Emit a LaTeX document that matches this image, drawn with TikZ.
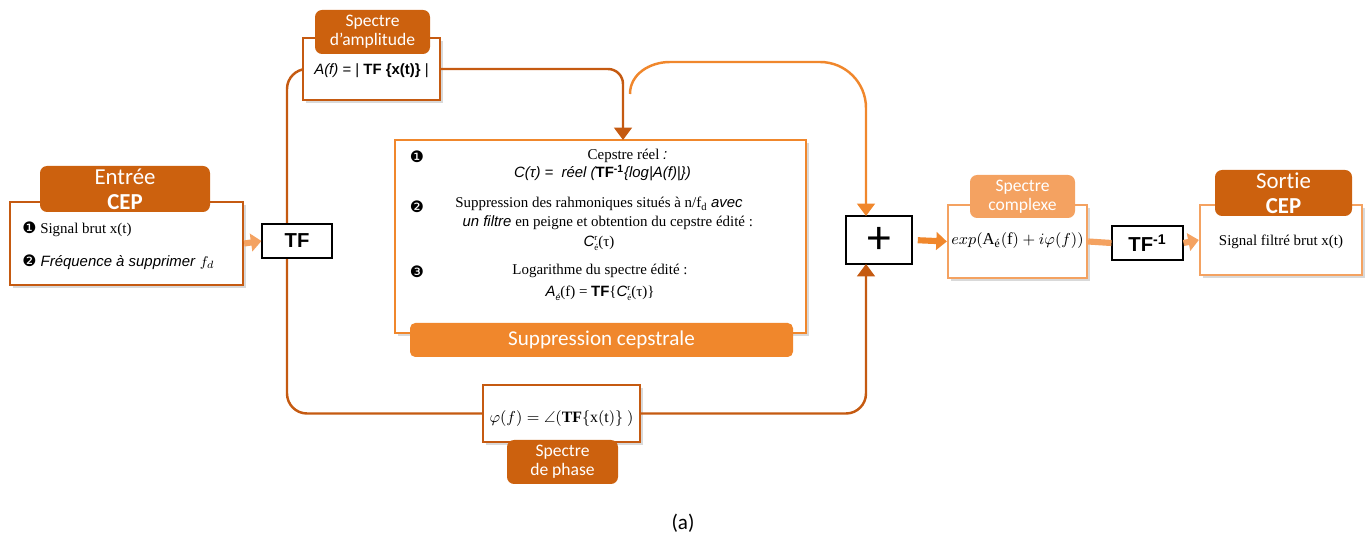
\documentclass[tikz,border=0pt]{standalone}
\usepackage{fontspec}
\usepackage{amsmath,amssymb}
\setmainfont{Liberation Serif}
\newfontfamily\calibrifont[Ligatures=NoCommon]{Carlito}
\newfontfamily\arialfont{Liberation Sans}
\newfontfamily\symbfont{DejaVu Sans}
\definecolor{DarkOrange}{HTML}{C55A11}
\definecolor{HeadOrange}{HTML}{CC610E}
\definecolor{MidOrange}{HTML}{F0872C}
\definecolor{LightOrange}{HTML}{F4A261}
\usetikzlibrary{arrows.meta, positioning, calc, backgrounds, shadows}
\tikzset{
  % Box styles
  framebox/.style={rectangle, line width=1.3pt, fill=white, drop shadow={shadow xshift=1.5pt, shadow yshift=-1.5pt, opacity=0.3}},
  headbox/.style={rectangle, rounded corners=4pt, fill=HeadOrange, text=white, align=center, inner sep=1pt, font=\calibrifont\fontsize{10}{11}\selectfont},
  opbox/.style={rectangle, draw=black, line width=0.6pt, fill=white, drop shadow={shadow xshift=0.8pt, shadow yshift=-0.8pt, opacity=0.3}, font=\arialfont\bfseries\fontsize{11.5}{12}\selectfont},
  banner/.style={rectangle, rounded corners=3pt, fill=MidOrange, text=white, minimum width=7.66cm, minimum height=0.68cm, font=\calibrifont\fontsize{12}{12}\selectfont},
  % Text styles
  sertext/.style={font=\fontsize{8.5}{10.5}\selectfont, inner sep=0pt, align=center},
  sanstext/.style={font=\arialfont\fontsize{8.5}{10}\selectfont, inner sep=0pt, align=center},
  bullet/.style={font=\symbfont\small, inner sep=0pt},
  % Arrow styles
  dkline/.style={draw=DarkOrange, line width=1.4pt},
  dkarrow/.style={dkline, -{Triangle[width=10pt,length=7pt]}},
  mdarrow/.style={draw=MidOrange, line width=1.4pt, -{Triangle[width=10pt,length=7pt]}},
  fatline/.style={draw=LightOrange, line width=3.5pt},
  fatarrow/.style={fatline, -{Triangle[width=10pt,length=6pt]}}
}
\begin{document}
\begin{tikzpicture}
  \useasboundingbox (0,0) rectangle (27.36,10.8);

  % Entree
  \node[framebox, draw=DarkOrange, minimum width=4.66cm, minimum height=1.66cm] (entree) at (2.53,5.93) {};
  \node[headbox, minimum width=3.4cm, minimum height=0.92cm, font=\calibrifont\fontsize{13}{14}\selectfont] (entreehead) at (2.5,7.02) {Entrée\\\textbf{CEP}};
  \node[sertext, anchor=west] (signal) at (0.44,6.22) {{\symbfont\small ❶} Signal brut x(t)};
  \node[sanstext, anchor=west] (freq) at (0.44,5.56) {{\symbfont\small ❷} \textit{Fréquence à supprimer} $f_d$};

  % TF
  \node[opbox, minimum width=1.4cm, minimum height=0.68cm] (tf) at (5.94,5.98) {TF};
  \coordinate (loopx) at (5.74,5.98);

  % Spectre d'amplitude
  \node[framebox, draw=DarkOrange, minimum width=2.74cm, minimum height=1.24cm] (amp) at (7.43,9.42) {};
  \node[headbox, minimum width=2.3cm, minimum height=0.88cm] (amphead) at (7.45,10.16) {Spectre\\d’amplitude};
  \node[sanstext] (ampf) at (7.43,9.38) {\textit{A(f)} = | \textbf{TF \{x(t)\}} |};

  % Suppression cepstrale
  \node[framebox, draw=MidOrange, minimum width=8.22cm, minimum height=3.86cm] (central) at (12.01,6.07) {};
  \node[banner] (supp) at (12.03,4.0) {Suppression cepstrale};
  \node[bullet] (b1) at (8.34,7.66) {❶};
  \node[bullet] (b2) at (8.34,6.66) {❷};
  \node[bullet] (b3) at (8.34,5.36) {❸};
  \node[sertext] (step1) at (12.05,7.5) {\hspace*{1cm}Cepstre réel {\arialfont\itshape :}\\{\arialfont\itshape C(τ) =~ réel ({\upshape\bfseries TF\textsuperscript{-1}}\{log|A(f)|\})}};
  \node[sertext] (step2) at (11.98,6.32) {Suppression des rahmoniques situés à n/f$_{\text{d}}$ {\arialfont\itshape avec}\\\hspace*{0.35cm}{\arialfont\itshape un filtre} en peigne et obtention du cepstre édité :\\[1pt]{\arialfont\itshape C}\rlap{\raisebox{3.5pt}{\tiny r}}\raisebox{-2.5pt}{\tiny é}(τ)};
  \node[sertext] (step3) at (12.0,5.15) {Logarithme du spectre édité :\\[2pt]{\arialfont\itshape A\raisebox{-2.5pt}{\tiny é}}(f) = {\arialfont\bfseries TF}\{{\arialfont\itshape C}\rlap{\raisebox{3.5pt}{\tiny r}}\raisebox{-2.5pt}{\tiny é}(τ)\}};
  \coordinate (cin) at (12.46,8.0);
  \coordinate (arcbeg) at (12.6,8.92);

  % Spectre de phase
  \node[framebox, draw=DarkOrange, minimum width=3.14cm, minimum height=1.14cm] (phase) at (11.23,2.53) {};
  \node[headbox, minimum width=2.22cm, minimum height=0.88cm] (phasehead) at (11.25,1.56) {Spectre\\de phase};
  \node[sertext, font=\fontsize{9}{10}\selectfont] (phasef) at (11.23,2.42) {$\varphi(f) = \angle(\mathbf{TF}\{\mathrm{x(t)}\}\ )$};

  % Somme
  \node[opbox, minimum width=1.32cm, minimum height=0.96cm, font=\calibrifont\fontsize{27}{27}\selectfont] (plus) at (17.58,6.0) {+};
  \coordinate (plustop) at (17.32,6.48);
  \coordinate (plusbot) at (17.32,5.52);

  % Spectre complexe
  \node[framebox, draw=LightOrange, minimum width=2.78cm, minimum height=1.46cm] (cplx) at (20.35,5.97) {};
  \node[headbox, fill=LightOrange, minimum width=2.1cm, minimum height=0.86cm] (cplxhead) at (20.45,6.87) {Spectre\\complexe};
  \node[sertext, font=\fontsize{9.5}{10}\selectfont] (cplxf) at (20.35,5.98) {$exp(\mathrm{A}_{\text{é}}(\mathrm{f}) + i\varphi(f))$};

  % TF inverse
  \node[opbox, minimum width=1.42cm, minimum height=0.68cm] (tfinv) at (22.95,5.94) {TF\textsuperscript{-1}};

  % Sortie
  \node[framebox, draw=LightOrange, minimum width=3.24cm, minimum height=1.4cm] (sortie) at (25.62,6.0) {};
  \node[headbox, minimum width=2.74cm, minimum height=0.92cm, font=\calibrifont\fontsize{13}{14}\selectfont] (sortiehead) at (25.67,6.94) {Sortie\\\textbf{CEP}};
  \node[sertext] (sortief) at (25.62,5.96) {Signal filtré brut x(t)};

  % Connectors
  \begin{scope}[on background layer]
    \draw[dkline, rounded corners=0.4cm] (amp.west) -| (loopx) |- (phase.west);
  \end{scope}
  \draw[fatarrow] (entree.east) -- (tf.west);
  \draw[dkarrow, rounded corners=0.3cm] (amp.east) -| (cin);
  \draw[mdarrow] (arcbeg) to[out=90, in=180] (13.4,9.56) -- (16.4,9.56) to[out=0, in=90] (17.32,8.64) -- (plustop);
  \draw[dkarrow, rounded corners=0.4cm] (phase.east) -| (plusbot);
  \draw[fatarrow, draw=MidOrange, shorten <=3pt] (plus.east) -- (cplx.west);
  \draw[fatline] (cplx.east) -- (tfinv.west);
  \draw[fatarrow] (tfinv.east) -- (sortie.west);

  % Legende
  \node[font=\calibrifont\fontsize{12}{12}\selectfont] (caption) at (13.66,0.34) {(a)};
\end{tikzpicture}
\end{document}
